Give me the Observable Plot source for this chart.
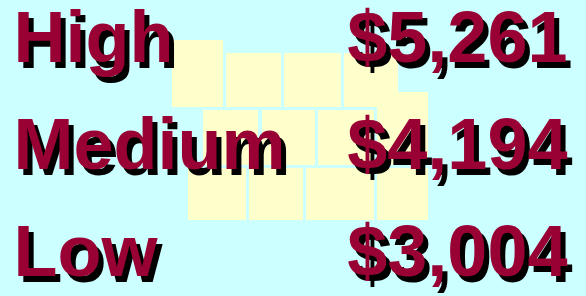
<!DOCTYPE html>
<html>
<head>
<meta charset="utf-8">
<script src="https://cdn.jsdelivr.net/npm/d3@7"></script>
<script src="https://cdn.jsdelivr.net/npm/@observablehq/plot@0.6"></script>
<style>
  html, body { margin: 0; padding: 0; background: #ccffff; }
  #wrap { position: relative; width: 586px; height: 296px; overflow: hidden; }
  #wrap > svg, #wrap > figure { position: absolute; left: 0; top: 0; margin: 0; }
</style>
</head>
<body>
<div id="wrap"></div>
<script>
// Row categories and their values
const tiers = ["High", "Medium", "Low"];
const amounts = [5261, 4194, 3004];

// Decorative background map tiles (map units)
const tileX1 = [172, 226, 284, 344, 377, 203, 262, 318, 188, 249, 306, 377];
const tileX2 = [223, 281, 341, 398, 428, 258, 315, 374, 246, 303, 374, 428];
const tileY1 = [40, 53, 53, 53, 92, 110, 110, 110, 168, 168, 168, 168];
const tileY2 = [107, 107, 107, 107, 165, 165, 165, 165, 220, 220, 220, 220];

const W = 586, H = 296;
const tiles = tileX1.map((x1, i) => ({x1, x2: tileX2[i], y1: tileY1[i], y2: tileY2[i]}));
const rows = tiers.map((t, i) => ({tier: t, amount: amounts[i]}));
const fmt = d3.format("$,");

const bg = Plot.plot({
  width: W, height: H,
  margin: 0,
  x: {type: "linear", domain: [0, W], range: [0, W], axis: null},
  y: {type: "linear", domain: [0, H], range: [0, H], axis: null},
  style: {background: "#ccffff"},
  marks: [
    Plot.rect(tiles, {x1: "x1", x2: "x2", y1: "y1", y2: "y2", fill: "#ffffcc"})
  ]
});

const font = {fontFamily: "Liberation Sans, Arial, sans-serif", fontWeight: "bold", fontSize: 72, lineAnchor: "bottom"};
const fg = Plot.plot({
  width: W, height: H,
  marginLeft: 13, marginRight: 19, marginTop: 0, marginBottom: 0,
  y: {type: "point", domain: tiers, range: [60, 275], padding: 0, axis: null},
  x: {axis: null},
  style: {background: "transparent"},
  marks: [
    Plot.text(rows, {y: "tier", text: "tier", frameAnchor: "left", textAnchor: "start", fill: "black", dx: 5, dy: 6, ...font}),
    Plot.text(rows, {y: "tier", text: d => fmt(d.amount), frameAnchor: "right", textAnchor: "end", fill: "black", dx: 5, dy: 6, ...font}),
    Plot.text(rows, {y: "tier", text: "tier", frameAnchor: "left", textAnchor: "start", fill: "#990033", ...font}),
    Plot.text(rows, {y: "tier", text: d => fmt(d.amount), frameAnchor: "right", textAnchor: "end", fill: "#990033", ...font})
  ]
});

const wrap = document.getElementById("wrap");
wrap.appendChild(bg);
wrap.appendChild(fg);
</script>
</body>
</html>
